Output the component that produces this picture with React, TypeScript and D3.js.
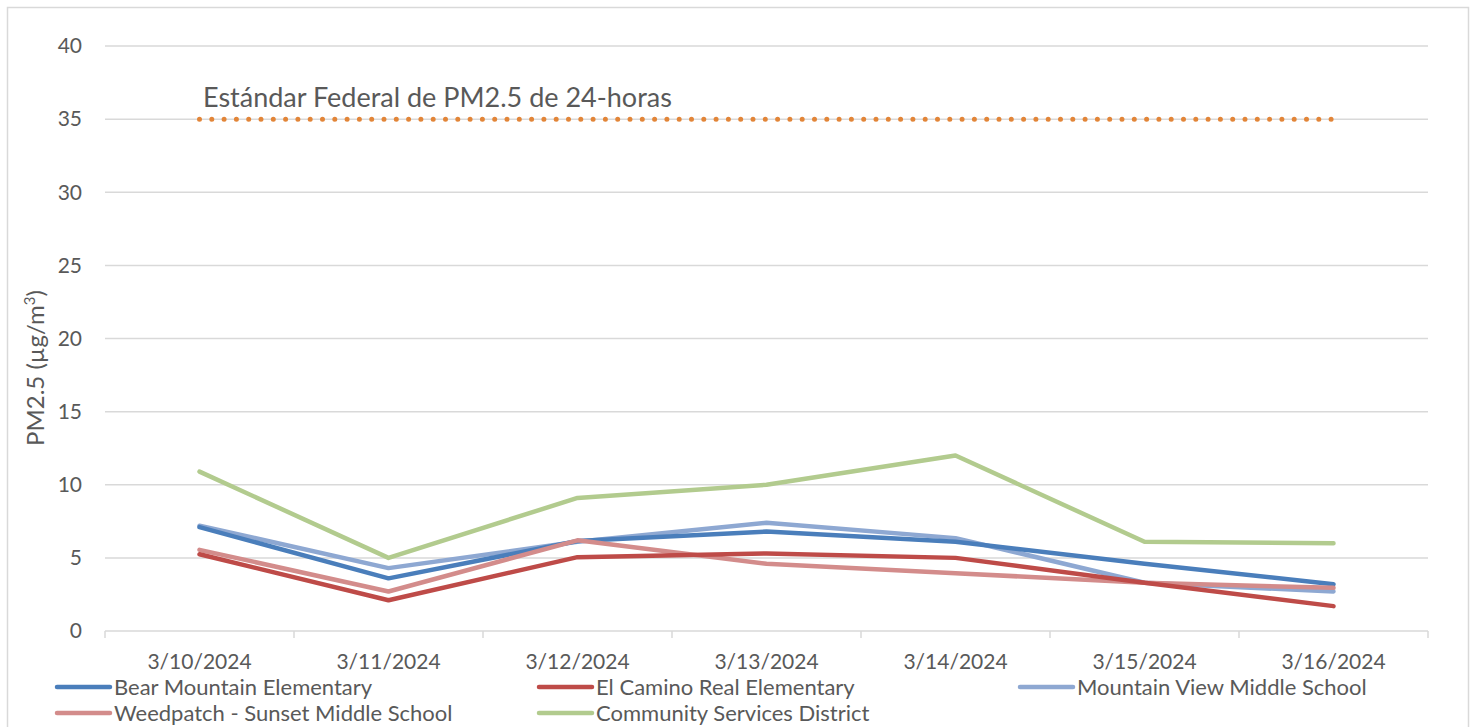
import React, { useEffect } from "react";
import * as d3 from "d3";

// categories (days)
const days = ["3/10/2024", "3/11/2024", "3/12/2024", "3/13/2024", "3/14/2024", "3/15/2024", "3/16/2024"];

// PM2.5 daily values per site
const bearMountain = [7.1, 3.6, 6.15, 6.8, 6.1, 4.6, 3.2];
const elCamino = [5.25, 2.1, 5.05, 5.3, 5.0, 3.3, 1.7];
const mountainView = [7.2, 4.3, 6.1, 7.4, 6.35, 3.3, 2.7];
const weedpatch = [5.55, 2.7, 6.2, 4.6, 3.95, 3.3, 2.95];
const community = [10.9, 5.0, 9.1, 10.0, 12.0, 6.1, 6.0];

const federalStandard = 35;
const yTicks = [0, 5, 10, 15, 20, 25, 30, 35, 40];

const series = [
  { name: "Bear Mountain Elementary", values: bearMountain, color: "#4a7ebb" },
  { name: "El Camino Real Elementary", values: elCamino, color: "#be4b48" },
  { name: "Mountain View Middle School", values: mountainView, color: "#8ea8d2" },
  { name: "Weedpatch - Sunset Middle School", values: weedpatch, color: "#d38c8b" },
  { name: "Community Services District", values: community, color: "#b2cb8e" },
];

// drawing order (bottom to top)
const drawOrder = [2, 0, 3, 1, 4];

const legendPos = [
  { x: 57, y: 687 },
  { x: 539, y: 687 },
  { x: 1020, y: 687 },
  { x: 57, y: 713 },
  { x: 539, y: 713 },
];

const width = 1473;
const height = 727;
const margin = { top: 46, right: 45, bottom: 96, left: 105 };
const font = "Lato, 'Open Sans', sans-serif";
const textColor = "#595959";

export default function App() {
  useEffect(() => {
    document.body.style.margin = "0";
  }, []);

  const x = d3
    .scaleBand()
    .domain(days)
    .range([margin.left, width - margin.right])
    .padding(0);

  const y = d3
    .scaleLinear()
    .domain([0, 40])
    .range([height - margin.bottom, margin.top]);

  const cx = (d: string) => (x(d) as number) + x.bandwidth() / 2;

  const line = d3
    .line<number>()
    .x((_, i) => cx(days[i]))
    .y((v) => y(v));

  const y0 = y(0);
  const boundaries = days.map((d) => x(d) as number).concat([width - margin.right]);

  return (
    <svg width={width} height={height} style={{ display: "block", fontFamily: font }}>
      <rect x={0} y={0} width={width} height={height} fill="#fff" />
      <rect x={7.5} y={7.5} width={1461} height={740} fill="none" stroke="#d9d9d9" strokeWidth={1.5} />

      {/* gridlines */}
      {yTicks.map((t) => (
        <line
          key={t}
          x1={margin.left}
          x2={width - margin.right}
          y1={y(t)}
          y2={y(t)}
          stroke="#d9d9d9"
          strokeWidth={1.5}
        />
      ))}
      {/* category tick marks */}
      {boundaries.map((b, i) => (
        <line key={i} x1={b} x2={b} y1={y0} y2={y0 + 7} stroke="#d9d9d9" strokeWidth={1.5} />
      ))}

      {/* y tick labels */}
      {yTicks.map((t) => (
        <text
          key={t}
          x={82}
          y={y(t)}
          dy="0.35em"
          textAnchor="end"
          fontSize={21}
          fill={textColor}
        >
          {t}
        </text>
      ))}

      {/* x tick labels */}
      {days.map((d) => (
        <text key={d} x={cx(d)} y={669} textAnchor="middle" fontSize={21} fill={textColor}>
          {d}
        </text>
      ))}

      {/* y axis title */}
      <text
        transform={`translate(44, ${368}) rotate(-90)`}
        textAnchor="middle"
        fontSize={24}
        fill={textColor}
      >
        PM2.5 (µg/m<tspan dy={-9} fontSize={15}>3</tspan>
        <tspan dy={9}>)</tspan>
      </text>

      {/* federal standard */}
      <line
        x1={cx(days[0])}
        x2={cx(days[days.length - 1])}
        y1={y(federalStandard)}
        y2={y(federalStandard)}
        stroke="#e28538"
        strokeWidth={5}
        strokeLinecap="round"
        strokeDasharray="0 12.3"
      />
      <text x={203} y={y(federalStandard) - 12} fontSize={27} fill={textColor}>
        Estándar Federal de PM2.5 de 24-horas
      </text>

      {/* series lines */}
      {drawOrder.map((i) => (
        <path
          key={series[i].name}
          d={line(series[i].values) || ""}
          fill="none"
          stroke={series[i].color}
          strokeWidth={4.5}
          strokeLinecap="round"
          strokeLinejoin="round"
        />
      ))}

      {/* legend */}
      {series.map((s, i) => (
        <g key={s.name} transform={`translate(${legendPos[i].x}, ${legendPos[i].y})`}>
          <line x1={0} x2={53} y1={0} y2={0} stroke={s.color} strokeWidth={4.5} strokeLinecap="round" />
          <text x={57} y={0} dy="0.35em" fontSize={22} fill={textColor}>
            {s.name}
          </text>
        </g>
      ))}
    </svg>
  );
}
